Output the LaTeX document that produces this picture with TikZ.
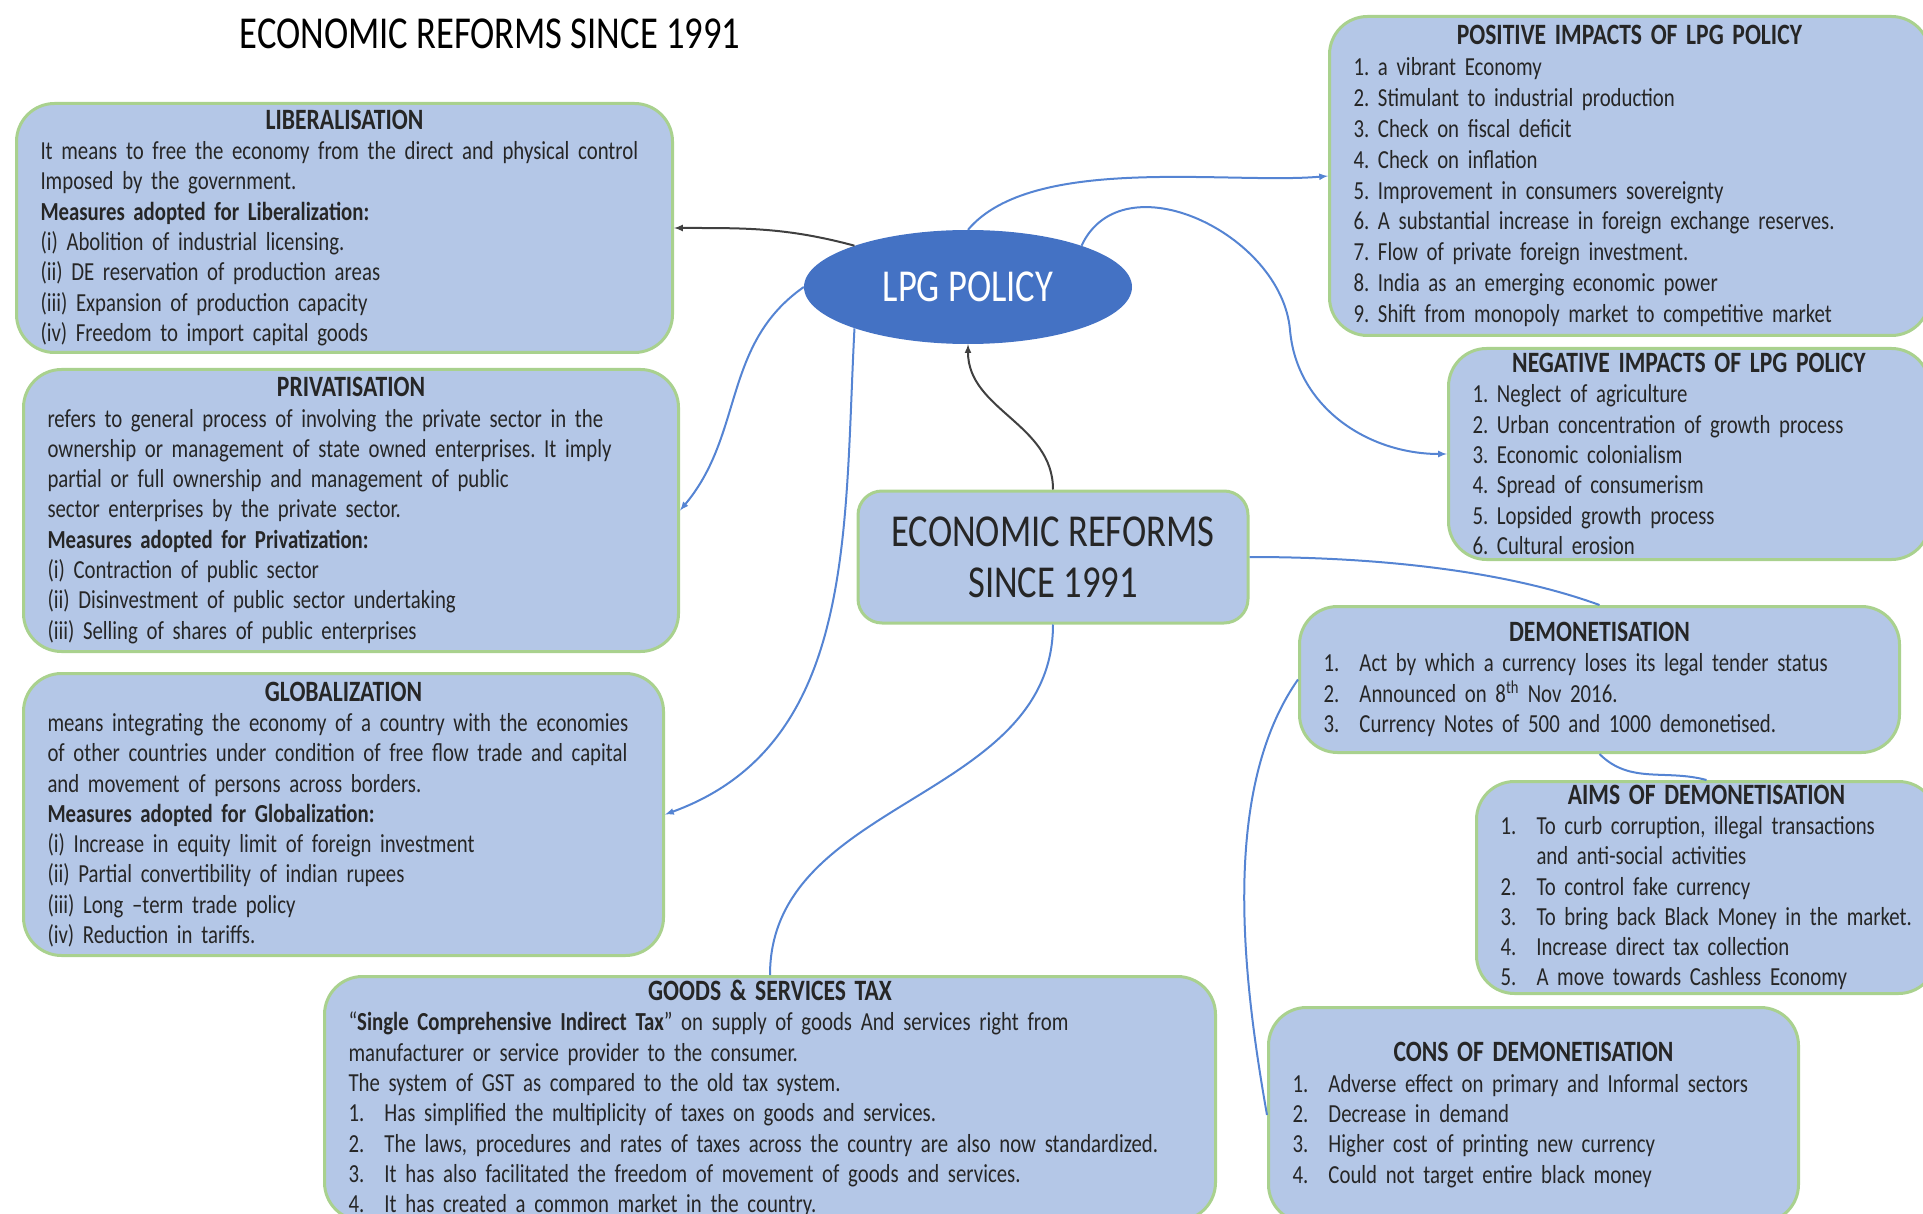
\documentclass[tikz,border=0pt]{standalone}
\usepackage{fontspec}
\setmainfont{Carlito}[FakeStretch=0.8]
\usetikzlibrary{shapes.geometric}
\frenchspacing

\definecolor{boxblue}{HTML}{B4C7E7}
\definecolor{boxgreen}{HTML}{A9D18E}
\definecolor{lpgblue}{HTML}{4472C4}
\definecolor{linkblue}{HTML}{5584D3}
\definecolor{inkgray}{HTML}{262626}

\newcommand{\boxtitle}[1]{\makebox[\linewidth]{\fontsize{29.5}{30.3}\selectfont\textbf{#1}}\\}
\newcommand{\numitem}[2]{\mbox{\makebox[36pt][l]{#1}#2}}

\tikzset{
  infobox/.style={draw=boxgreen, line width=3pt, fill=boxblue,
    rounded corners=38pt, anchor=north west, inner xsep=24pt,
    align=left, text=inkgray, font=\fontsize{26}{30.3}\selectfont},
  bigtext/.style={font=\fontsize{45.7}{51}\selectfont},
  link/.style={draw=linkblue, line width=2pt},
  darklink/.style={draw=black!75, line width=2pt},
}

\begin{document}
\begin{tikzpicture}[x=1pt, y=-1pt, >=latex]
      \useasboundingbox (0,0) rectangle (1923,1214);
      \node [bigtext] (title) at (490,34) {ECONOMIC REFORMS SINCE 1991};
      \node [ellipse, fill=lpgblue, minimum width=328pt, minimum height=114pt,
        text=white, bigtext] (lpg) at (968,287) {LPG POLICY};
      \node [draw=boxgreen, line width=3pt, fill=boxblue, rounded corners=24pt,
        minimum width=390pt, minimum height=132pt, align=center, text=inkgray,
        bigtext] (econ) at (1053,557) {ECONOMIC REFORMS\\SINCE 1991};

      \node [infobox, text width=608pt, minimum height=249pt] (lib) at (15,102) {%
        \boxtitle{LIBERALISATION}
        \mbox{It means to free the economy from the direct and physical control}\\
        Imposed by the government.\\
        \textbf{Measures adopted for Liberalization:}\\
        (i) Abolition of industrial licensing.\\
        (ii) DE reservation of production areas\\
        (iii) Expansion of production capacity\\
        (iv) Freedom to import capital goods};
      \node [infobox, text width=607pt, minimum height=282pt] (priv) at (22,368) {%
        \boxtitle{PRIVATISATION}
        \mbox{refers to general process of involving the private sector in the}\\
        \mbox{ownership or management of state owned enterprises. It imply}\\
        partial or full ownership and management of public\\
        sector enterprises by the private sector.\\
        \textbf{Measures adopted for Privatization:}\\
        (i) Contraction of public sector\\
        (ii) Disinvestment of public sector undertaking\\
        (iii) Selling of shares of public enterprises};
      \node [infobox, text width=592pt, minimum height=282pt] (glob) at (22,672) {%
        \boxtitle{GLOBALIZATION}
        \mbox{means integrating the economy of a country with the economies}\\
        \mbox{of other countries under condition of free flow trade and capital}\\
        and movement of persons across borders.\\
        \textbf{Measures adopted for Globalization:}\\
        (i) Increase in equity limit of foreign investment\\
        (ii) Partial convertibility of indian rupees\\
        (iii) Long –term trade policy\\
        (iv) Reduction in tariffs.};
      \node [infobox, text width=843pt, minimum height=244pt] (gst) at (323,975) {%
        \boxtitle{GOODS \& SERVICES TAX}
        \mbox{“\textbf{Single Comprehensive Indirect Tax}” on supply of goods And services right from}\\
        manufacturer or service provider to the consumer.\\
        The system of GST as compared to the old tax system.\\
        \numitem{1.}{Has simplified the multiplicity of taxes on goods and services.}\\
        \numitem{2.}{The laws, procedures and rates of taxes across the country are also now standardized.}\\
        \numitem{3.}{It has also facilitated the freedom of movement of goods and services.}\\
        \numitem{4.}{It has created a common market in the country.}};

      \node [infobox, text width=552pt, minimum height=319pt,
        font=\fontsize{26}{30.9}\selectfont] (pos) at (1328,15) {%
        \boxtitle{POSITIVE IMPACTS OF LPG POLICY}
        1. a vibrant Economy\\
        2. Stimulant to industrial production\\
        3. Check on fiscal deficit\\
        4. Check on inflation\\
        5. Improvement in consumers sovereignty\\
        \mbox{6. A substantial increase in foreign exchange reserves.}\\
        7. Flow of private foreign investment.\\
        8. India as an emerging economic power\\
        \mbox{9. Shift from monopoly market to competitive market}};
      \node [infobox, text width=433pt, minimum height=211pt] (neg) at (1447,347) {%
        \boxtitle{NEGATIVE IMPACTS OF LPG POLICY}
        1. Neglect of agriculture\\
        2. Urban concentration of growth process\\
        3. Economic colonialism\\
        4. Spread of consumerism\\
        5. Lopsided growth process\\
        6. Cultural erosion};
      \node [infobox, text width=552pt, minimum height=146pt] (demon) at (1298,605) {%
        \boxtitle{DEMONETISATION}
        \numitem{1.}{Act by which a currency loses its legal tender status}\\
        \numitem{2.}{Announced on 8\textsuperscript{th} Nov 2016.}\\
        \numitem{3.}{Currency Notes of 500 and 1000 demonetised.}};
      \node [infobox, text width=412pt, minimum height=211pt] (aims) at (1475,780) {%
        \boxtitle{AIMS OF DEMONETISATION}
        \numitem{1.}{To curb corruption, illegal transactions}\\
        \hspace*{36pt}and anti-social activities\\
        \numitem{2.}{To control fake currency}\\
        \numitem{3.}{To bring back Black Money in the market.}\\
        \numitem{4.}{Increase direct tax collection}\\
        \numitem{5.}{A move towards Cashless Economy}};
      \node [infobox, text width=482pt, minimum height=215pt] (cons) at (1267,1006) {%
        \boxtitle{CONS OF DEMONETISATION}
        \numitem{1.}{Adverse effect on primary and Informal sectors}\\
        \numitem{2.}{Decrease in demand}\\
        \numitem{3.}{Higher cost of printing new currency}\\
        \numitem{4.}{Could not target entire black money}};

      \coordinate (negbend) at (1290,330);
      \draw [darklink, ->] (lpg.160) to [out=165, in=0] (lib.east);
      \draw [link, ->] (lpg.west) to [out=215, in=50] (priv.east);
      \draw [link, ->] (lpg.200) to [out=-93, in=20] (glob.east);
      \draw [link, ->] (lpg.north) to [out=50, in=185, looseness=0.7] (pos.west);
      \draw [link, ->] (lpg.20) to [out=65, in=95, looseness=1.1] (negbend)
        to [out=-85, in=180] (neg.west);
      \draw [darklink, ->] (econ.north) to [out=90, in=-90] (lpg.south);
      \draw [link] (econ.east) to [out=0, in=160, looseness=0.8] (demon.north);
      \draw [link] (econ.south) to [out=-90, in=90] (gst.north);
      \draw [link] (demon.south) to [out=-45, in=165] (aims.north);
      \draw [link] (demon.west) to [out=235, in=100, looseness=0.8] (cons.west);
    \end{tikzpicture}
\end{document}
